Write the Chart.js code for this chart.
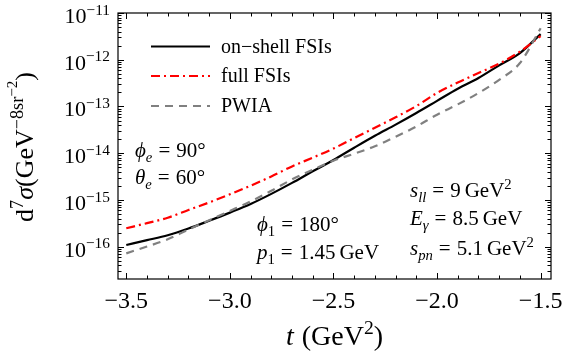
<!DOCTYPE html>
<html>
<head>
<meta charset="utf-8">
<script src="https://cdn.jsdelivr.net/npm/chart.js@4.4.1/dist/chart.umd.min.js"></script>
<style>
  body { margin: 0; background: #fff; }
</style>
</head>
<body>
<canvas id="xsec" width="566" height="360"></canvas>
<script>
// momentum transfer t in GeV^2
var tValues = [-3.5, -3.4, -3.3, -3.2, -3.1, -3.0, -2.9, -2.8, -2.7, -2.6, -2.5,
               -2.4, -2.3, -2.2, -2.1, -2.0, -1.9, -1.8, -1.7, -1.6, -1.5];

// d^7 sigma in GeV^-8 sr^-2
var onShellFSI = [1.09e-16, 1.38e-16, 1.76e-16, 2.45e-16, 3.60e-16, 5.37e-16, 8.20e-16,
                  1.35e-15, 2.32e-15, 4.12e-15, 7.16e-15, 1.31e-14, 2.36e-14, 4.09e-14,
                  7.26e-14, 1.32e-13, 2.39e-13, 4.06e-13, 7.60e-13, 1.39e-12, 3.54e-12];
var fullFSI = [2.48e-16, 3.20e-16, 4.17e-16, 6.10e-16, 8.87e-16, 1.32e-15, 2.02e-15,
               3.19e-15, 5.22e-15, 8.05e-15, 1.26e-14, 2.11e-14, 3.52e-14, 5.87e-14,
               1.02e-13, 1.95e-13, 3.26e-13, 5.20e-13, 8.26e-13, 1.49e-12, 3.22e-12];
var pwia = [7.22e-17, 1.01e-16, 1.44e-16, 2.33e-16, 3.69e-16, 5.83e-16, 9.31e-16,
            1.57e-15, 2.75e-15, 4.42e-15, 6.92e-15, 9.77e-15, 1.41e-14, 2.25e-14,
            3.73e-14, 6.67e-14, 1.11e-13, 1.94e-13, 3.72e-13, 8.51e-13, 4.71e-12];

var xTickLabels = [-3.5, -3.0, -2.5, -2.0, -1.5];
var yTickExponents = [-16, -15, -14, -13, -12, -11];
var seriesNames = ["on\u2212shell FSIs", "full FSIs", "PWIA"];

var SERIF = '"Liberation Serif", "DejaVu Serif", serif';

function pts(vals) {
  return tValues.map(function (t, i) { return { x: t, y: vals[i] }; });
}

// parts: {s, i (italic), lv (0 normal, 1 sup, -1 sub, 2 sup of sup)} or {gap}
function richText(ctx, parts, x, y, size, align) {
  function fontFor(p) {
    var sz = p.lv === 1 || p.lv === -1 ? size * 0.7 : p.lv === 2 ? size * 0.58 : size;
    return (p.i ? "italic " : "") + sz + "px " + SERIF;
  }
  function shift(p) {
    if (p.lv === 1) return -size * 0.38;
    if (p.lv === -1) return size * 0.22;
    if (p.lv === 2) return -size * 0.62;
    return 0;
  }
  var total = 0;
  parts.forEach(function (p) {
    if (p.gap) { total += p.gap; return; }
    ctx.font = fontFor(p);
    p.w = ctx.measureText(p.s).width;
    total += p.w;
  });
  var cx = align === "center" ? x - total / 2 : align === "right" ? x - total : x;
  ctx.textAlign = "left";
  ctx.textBaseline = "alphabetic";
  parts.forEach(function (p) {
    if (p.gap) { cx += p.gap; return; }
    ctx.font = fontFor(p);
    ctx.fillText(p.s, cx, y + shift(p));
    cx += p.w;
  });
}

// "lhs = value unit" with math spacing around the equals sign
function kin(lhs, sub, subItalic, value, unit, unitPow) {
  var parts = [{ s: lhs, i: true }, { s: sub, i: subItalic, lv: -1 }, { gap: 6 }, { s: "=" }, { gap: 6 }, { s: value }];
  if (unit) {
    parts.push({ gap: 4 }, { s: unit });
    if (unitPow) parts.push({ s: unitPow, lv: 1 });
  }
  return parts;
}

var frameAndText = {
  id: "frameAndText",
  afterDraw: function (chart) {
    var ctx = chart.ctx;
    var a = chart.chartArea;
    var xs = chart.scales.x, ys = chart.scales.y;
    ctx.save();
    ctx.fillStyle = "#000";
    ctx.strokeStyle = "#000";

    // frame
    ctx.lineWidth = 1.2;
    ctx.strokeRect(a.left, a.top, a.right - a.left, a.bottom - a.top);

    // inward ticks, mirrored on opposite side
    ctx.lineWidth = 1;
    ctx.beginPath();
    for (var k = -35; k <= -15; k++) {
      var px = Math.round(xs.getPixelForValue(k / 10)) + 0.5;
      var len = k % 5 === 0 ? 6 : 3.5;
      ctx.moveTo(px, a.bottom); ctx.lineTo(px, a.bottom - len);
      ctx.moveTo(px, a.top); ctx.lineTo(px, a.top + len);
    }
    for (var e = -17; e <= -11; e++) {
      for (var m = 1; m <= 9; m++) {
        var v = m * Math.pow(10, e);
        if (v < ys.min || v > ys.max * 1.0001) continue;
        var py = Math.round(ys.getPixelForValue(v)) + 0.5;
        var l = m === 1 ? 6 : 3.5;
        ctx.moveTo(a.left, py); ctx.lineTo(a.left + l, py);
        ctx.moveTo(a.right, py); ctx.lineTo(a.right - l, py);
      }
    }
    ctx.stroke();

    // tick labels
    xTickLabels.forEach(function (v) {
      ctx.font = "24px " + SERIF;
      ctx.textAlign = "center";
      ctx.textBaseline = "alphabetic";
      ctx.fillText("\u2212" + Math.abs(v).toFixed(1), xs.getPixelForValue(v), a.bottom + 29);
    });
    yTickExponents.forEach(function (e) {
      var py = ys.getPixelForValue(Math.pow(10, e));
      richText(ctx, [{ s: "10" }, { s: "\u2212" + Math.abs(e), lv: 1 }], a.left - 8, py + 10, 22, "right");
    });

    // axis titles
    richText(ctx, [{ s: "t", i: true }, { gap: 8 }, { s: "(GeV" }, { s: "2", lv: 1 }, { s: ")" }],
      (a.left + a.right) / 2, 345, 28, "center");
    ctx.save();
    ctx.translate(33, 147);
    ctx.rotate(-Math.PI / 2);
    richText(ctx, [{ s: "d" }, { s: "7", lv: 1 }, { s: "\u03c3", i: true }, { s: "(GeV" },
      { s: "\u22128", lv: 1 }, { s: "sr", lv: 1 }, { s: "\u22122", lv: 2 }, { s: ")" }], 0, 0, 26, "center");
    ctx.restore();

    // legend
    var rows = [46.5, 76, 106];
    chart.data.datasets.forEach(function (ds, i) {
      ctx.save();
      ctx.strokeStyle = ds.borderColor;
      ctx.lineWidth = ds.borderWidth;
      ctx.setLineDash(ds.borderDash || []);
      ctx.beginPath();
      ctx.moveTo(151, rows[i]); ctx.lineTo(210, rows[i]);
      ctx.stroke();
      ctx.restore();
      richText(ctx, [{ s: seriesNames[i] }], 221, rows[i] + 6, 20, "left");
    });

    // kinematics
    var fs = 21;
    richText(ctx, kin("\u03d5", "e", true, "90\u00b0"), 135, 157, fs, "left");
    richText(ctx, kin("\u03b8", "e", true, "60\u00b0"), 135, 184, fs, "left");
    richText(ctx, kin("\u03d5", "1", false, "180\u00b0"), 257, 231, fs, "left");
    richText(ctx, kin("p", "1", false, "1.45", "GeV"), 257, 259, fs, "left");
    richText(ctx, kin("s", "ll", true, "9", "GeV", "2"), 410, 197, fs, "left");
    richText(ctx, kin("E", "\u03b3", true, "8.5", "GeV"), 410, 225, fs, "left");
    richText(ctx, kin("s", "pn", true, "5.1", "GeV", "2"), 410, 255, fs, "left");

    ctx.restore();
  }
};

new Chart(document.getElementById("xsec").getContext("2d"), {
  type: "line",
  data: {
    datasets: [
      { label: seriesNames[0], data: pts(onShellFSI), borderColor: "#000000", borderWidth: 2.2, order: 3 },
      { label: seriesNames[1], data: pts(fullFSI), borderColor: "#ff0000", borderWidth: 2.2, borderDash: [9, 4, 2, 4], order: 2 },
      { label: seriesNames[2], data: pts(pwia), borderColor: "#808080", borderWidth: 2.2, borderDash: [8, 6], order: 1 },
    ],
  },
  options: {
    responsive: false,
    animation: false,
    layout: { padding: { left: 118, right: 15, top: 13, bottom: 81 } },
    elements: { point: { radius: 0 }, line: { cubicInterpolationMode: "monotone", fill: false } },
    plugins: { legend: { display: false }, tooltip: { enabled: false } },
    scales: {
      x: { type: "linear", min: -3.54, max: -1.45, display: false },
      y: { type: "logarithmic", min: 2.04e-17, max: 1e-11, display: false },
    },
  },
  plugins: [frameAndText],
});
</script>
</body>
</html>
